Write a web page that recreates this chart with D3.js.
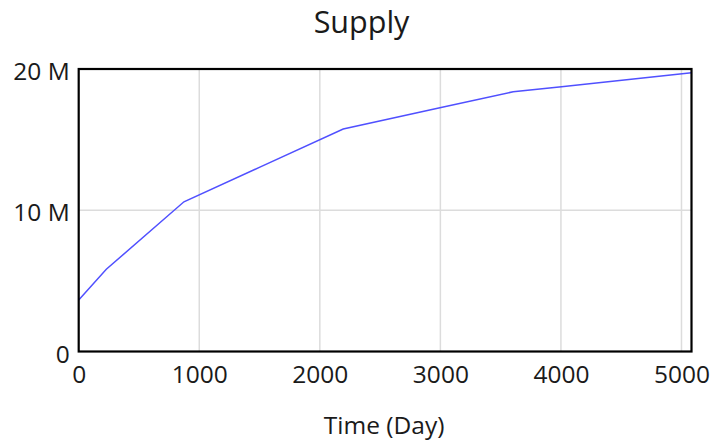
<!DOCTYPE html>
<html><head><meta charset="utf-8">
<script src="https://cdn.jsdelivr.net/npm/d3@7/dist/d3.min.js"></script>
<style>body{margin:0;background:#fff;} svg{display:block;} text{font-family:"Open Sans","Noto Sans",sans-serif;fill:#1a1a1a;}</style>
</head><body>
<svg id="c" width="715" height="446"></svg>
<script>
const title = "Supply";
const xLabel = "Time (Day)";
const days = [0, 229, 873, 1503, 2194, 2996, 3604, 4005, 5083];
const supply = [3.65e6, 5.82e6, 10.6e6, 13.05e6, 15.75e6, 17.26e6, 18.39e6, 18.75e6, 19.74e6];
const xTicks = [0, 1000, 2000, 3000, 4000, 5000];
const yTicks = [0, 10e6, 20e6];
const yTickLabels = ["0", "10 M", "20 M"];
const xMax = 5083, yMax = 20e6;

const svg = d3.select("#c");
const m = {l: 78.7, r: 691.5, t: 69, b: 351.5};
const x = d3.scaleLinear().domain([0, xMax]).range([m.l, m.r]);
const y = d3.scaleLinear().domain([0, yMax]).range([m.b, m.t]);
const FF = '"Open Sans","Noto Sans",sans-serif';

// grid
svg.append("g").selectAll("line").data(xTicks.filter(d => d > 0)).join("line")
  .attr("x1", d => x(d)).attr("x2", d => x(d)).attr("y1", m.t).attr("y2", m.b)
  .attr("stroke", "#dcdcdc").attr("stroke-width", 1.5);
svg.append("g").selectAll("line").data(yTicks.filter(d => d > 0 && d < yMax)).join("line")
  .attr("x1", m.l).attr("x2", m.r).attr("y1", d => y(d)).attr("y2", d => y(d))
  .attr("stroke", "#dcdcdc").attr("stroke-width", 1.5);

// line
svg.append("path").datum(days.map((d, i) => [d, supply[i]]))
  .attr("fill", "none").attr("stroke", "#5050ff").attr("stroke-width", 1.5)
  .attr("d", d3.line().x(d => x(d[0])).y(d => y(d[1])));

// frame
svg.append("rect").attr("x", m.l).attr("y", m.t).attr("width", m.r - m.l).attr("height", m.b - m.t)
  .attr("fill", "none").attr("stroke", "#000").attr("stroke-width", 2.2);

// axes
const xa = svg.append("g").attr("transform", `translate(0,${m.b})`)
  .call(d3.axisBottom(x).tickValues(xTicks).tickSize(0).tickFormat(d3.format("d")));
xa.select(".domain").remove();
xa.selectAll("text").attr("y", 31.5).attr("dy", 0).attr("font-size", 24.5)
  .style("font-family", FF).attr("fill", "#1a1a1a");

const ya = svg.append("g").attr("transform", `translate(${m.l},0)`)
  .call(d3.axisLeft(y).tickValues(yTicks).tickSize(0).tickFormat((d, i) => yTickLabels[i]));
ya.select(".domain").remove();
ya.selectAll("text").attr("x", -9).attr("y", 10.5).attr("dy", 0).attr("font-size", 24.5)
  .style("font-family", FF).attr("fill", "#1a1a1a");

svg.append("text").attr("x", 361.5).attr("y", 33).attr("text-anchor", "middle")
  .attr("font-size", 30.5).text(title);
svg.append("text").attr("x", (m.l + m.r) / 2 - 1).attr("y", 433.5).attr("text-anchor", "middle")
  .attr("font-size", 24.5).text(xLabel);
</script>
</body></html>
